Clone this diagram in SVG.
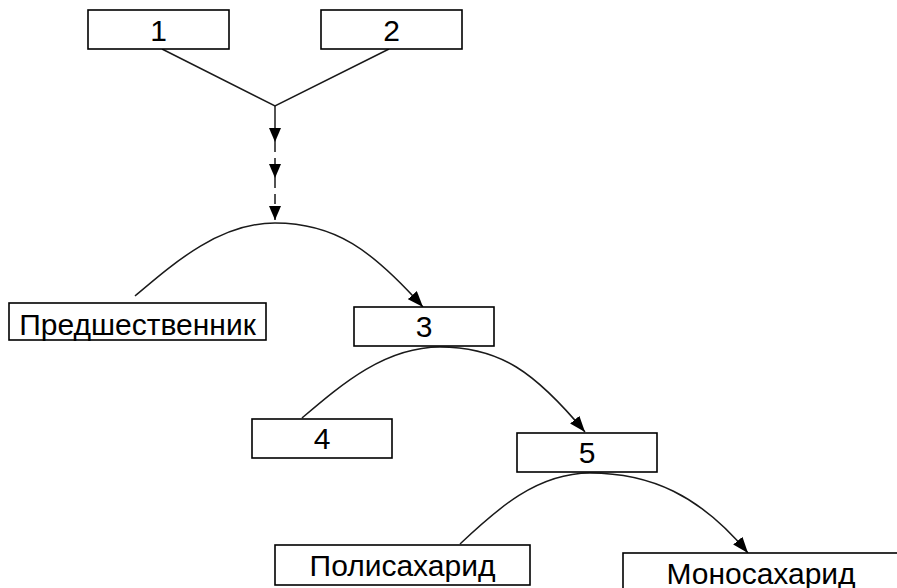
<svg xmlns="http://www.w3.org/2000/svg" width="897" height="588" viewBox="0 0 897 588">
<defs>
<style>
.box{fill:#fff;stroke:#000;stroke-width:1.6}
.lbl{font-family:"Liberation Sans",Arial,sans-serif;font-size:30px;fill:#000;text-anchor:middle}
.ln{fill:none;stroke:#1a1a1a;stroke-width:1.5}
.dash{stroke-dasharray:10,6}
</style>
<marker id="ah" markerUnits="userSpaceOnUse" markerWidth="14" markerHeight="12" refX="14" refY="6" orient="auto">
<path d="M0,0 L14,6 L0,12 z" fill="#000"/>
</marker>
<marker id="ahc" markerUnits="userSpaceOnUse" markerWidth="16" markerHeight="12" refX="16" refY="6" orient="auto">
<path d="M0,0 L16,6 L0,12 z" fill="#000"/>
</marker>
</defs>
<rect width="897" height="588" fill="#fff"/>
<g id="connectors">
<path class="ln" d="M162,49 L275,106 L389,49"/>
<path class="ln" d="M275,106 V142" marker-end="url(#ah)"/>
<path class="ln dash" d="M275,142 V178" marker-end="url(#ah)"/>
<path class="ln dash" d="M275,178 V220" marker-end="url(#ah)"/>
<path class="ln" d="M135,296 C175,262 220,223 275,223 C335,223 372,250 423,307" marker-end="url(#ahc)"/>
<path class="ln" d="M302,418 C342,384 385,347 440,347 C500,347 535,372 585,432" marker-end="url(#ahc)"/>
<path class="ln" d="M460,544 C497,509 537,473 590,473 C650,473 700,495 748,553" marker-end="url(#ahc)"/>
</g>
<g id="n1"><rect class="box" x="88" y="10" width="141" height="39"/><text class="lbl" x="158.5" y="41">1</text></g>
<g id="n2"><rect class="box" x="321" y="10" width="141" height="39"/><text class="lbl" x="391.5" y="41">2</text></g>
<g id="pred"><rect class="box" x="9" y="303" width="257" height="37"/><text class="lbl" x="137.5" y="335">Предшественник</text></g>
<g id="n3"><rect class="box" x="354" y="307" width="140" height="39"/><text class="lbl" x="424" y="337">3</text></g>
<g id="n4"><rect class="box" x="252" y="419" width="140" height="39"/><text class="lbl" x="322" y="449">4</text></g>
<g id="n5"><rect class="box" x="517" y="433" width="140" height="39"/><text class="lbl" x="587" y="463">5</text></g>
<g id="poly"><rect class="box" x="275" y="545" width="255" height="40"/><text class="lbl" x="402.5" y="576">Полисахарид</text></g>
<g id="mono"><rect class="box" x="623" y="553" width="290" height="50"/><text class="lbl" x="761" y="584">Моносахарид</text></g>
</svg>
